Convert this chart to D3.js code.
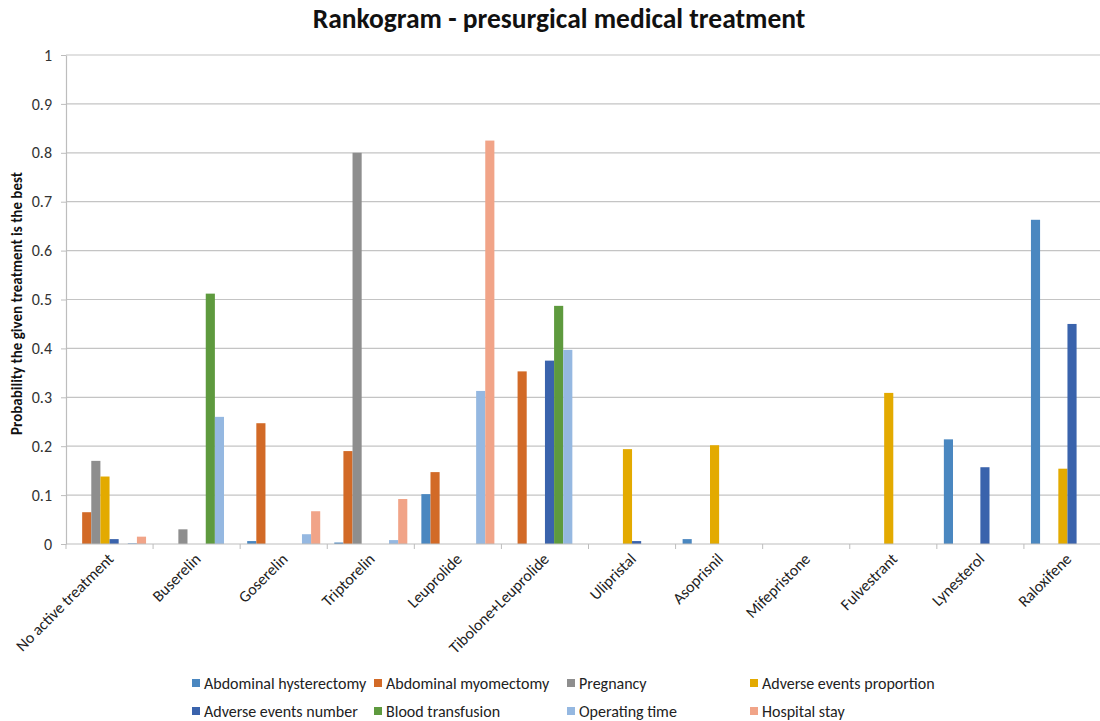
<!DOCTYPE html>
<html><head><meta charset="utf-8">
<script src="https://cdn.jsdelivr.net/npm/d3@7"></script>
<style>body{margin:0;background:#fff}svg{display:block}</style>
</head><body>
<svg id="c" width="1100" height="721"></svg>
<script>
const categories = ["No active treatment","Buserelin","Goserelin","Triptorelin","Leuprolide","Tibolone+Leuprolide","Ulipristal","Asoprisnil","Mifepristone","Fulvestrant","Lynesterol","Raloxifene"];
const seriesNames = ["Abdominal hysterectomy","Abdominal myomectomy","Pregnancy","Adverse events proportion","Adverse events number","Blood transfusion","Operating time","Hospital stay"];
const seriesColors = ["#4a87c0","#d26a27","#8e8e8e","#e3aa00","#3a63ac","#5e9a3e","#95b8e1","#f1a488"];
const abdominalHysterectomy = [0,0,0.006,0.003,0.102,0,0,0.01,0,0,0.214,0.663];
const abdominalMyomectomy   = [0.065,0,0.247,0.19,0.147,0.353,0,0,0,0,0,0];
const pregnancy             = [0.17,0.03,0,0.8,0,0,0,0,0,0,0,0];
const adverseProportion     = [0.138,0,0,0,0,0,0.194,0.202,0,0.309,0,0.154];
const adverseNumber         = [0.01,0,0,0,0,0.375,0.006,0,0,0,0.157,0.45];
const bloodTransfusion      = [0,0.512,0,0,0,0.487,0,0,0,0,0,0];
const operatingTime         = [0.002,0.26,0.02,0.008,0.313,0.397,0,0,0,0,0,0];
const hospitalStay          = [0.015,0,0.067,0.092,0.825,0,0,0,0,0,0,0];
const yTicks = [0,0.1,0.2,0.3,0.4,0.5,0.6,0.7,0.8,0.9,1];

const seriesValues = [abdominalHysterectomy,abdominalMyomectomy,pregnancy,adverseProportion,adverseNumber,bloodTransfusion,operatingTime,hospitalStay];

const svg = d3.select("#c");
const L = 66, R = 1111, T = 55, B = 544;
const font = "Carlito, 'Open Sans', 'Liberation Sans', sans-serif";

const x0 = d3.scaleBand().domain(categories).range([L, R]).paddingInner(0).paddingOuter(0);
const x1 = d3.scaleBand().domain(seriesNames).range([0, x0.bandwidth()]).paddingInner(0).paddingOuter(0.77);
const y = d3.scaleLinear().domain([0, 1]).range([B, T]);

// gridlines
svg.append("g").selectAll("line").data(yTicks.slice(1)).join("line")
  .attr("x1", L).attr("x2", R).attr("y1", d => y(d)).attr("y2", d => y(d))
  .attr("stroke", "#c4c4c4").attr("stroke-width", 1.2);

// y axis
const yAxis = svg.append("g").attr("transform", `translate(${L},0)`)
  .call(d3.axisLeft(y).tickValues(yTicks).tickSize(5).tickSizeOuter(0).tickFormat(d3.format("~g")));
yAxis.select(".domain").attr("stroke", "#bdbdbd").attr("stroke-width", 1.2);
yAxis.selectAll(".tick line").attr("stroke", "#bdbdbd");
yAxis.selectAll("text").attr("font-family", font).attr("font-size", 16).attr("fill", "#333").attr("x", -14);

// bars
const groups = svg.append("g").selectAll("g").data(categories).join("g")
  .attr("transform", d => `translate(${x0(d)},0)`);
groups.selectAll("rect").data((c, i) => seriesNames.map((s, j) => ({s, j, v: seriesValues[j][i]})))
  .join("rect")
  .attr("x", d => x1(d.s)).attr("width", x1.bandwidth())
  .attr("y", d => y(d.v)).attr("height", d => B - y(d.v))
  .attr("fill", d => seriesColors[d.j]);

// x axis
const xAxis = svg.append("g").attr("transform", `translate(0,${B})`);
xAxis.append("line").attr("x1", L).attr("x2", R).attr("stroke", "#bdbdbd").attr("stroke-width", 1.2);
xAxis.selectAll("line.t").data(d3.range(categories.length + 1)).join("line").attr("class", "t")
  .attr("x1", i => L + i * x0.step()).attr("x2", i => L + i * x0.step())
  .attr("y1", 0).attr("y2", 5).attr("stroke", "#bdbdbd");
xAxis.selectAll("text").data(categories).join("text")
  .attr("transform", d => `translate(${x0(d) + x0.bandwidth() / 2 + 5},16) rotate(-45)`)
  .attr("text-anchor", "end").attr("font-family", font).attr("font-size", 16).attr("fill", "#222")
  .text(d => d);

// title
svg.append("text").attr("x", 559).attr("y", 28).attr("text-anchor", "middle")
  .attr("font-family", font).attr("font-weight", "bold").attr("font-size", 27.5).attr("fill", "#111")
  .text("Rankogram - presurgical medical treatment");

// y label
svg.append("text").attr("transform", `translate(22,${(T + B) / 2 + 4}) rotate(-90)`)
  .attr("text-anchor", "middle").attr("font-family", font).attr("font-weight", "bold")
  .attr("font-size", 15).attr("fill", "#111")
  .text("Probability the given treatment is the best");

// legend
const legX = [192, 374, 567, 750], legY = [684, 712];
const leg = svg.append("g").selectAll("g").data(seriesNames).join("g")
  .attr("transform", (d, i) => `translate(${legX[i % 4]},${legY[Math.floor(i / 4)]})`);
leg.append("rect").attr("x", 0).attr("y", -5).attr("width", 8).attr("height", 8).attr("fill", (d, i) => seriesColors[i]);
leg.append("text").attr("x", 12).attr("y", 4.5).attr("font-family", font).attr("font-size", 16).attr("fill", "#222").text(d => d);
</script>
</body></html>
